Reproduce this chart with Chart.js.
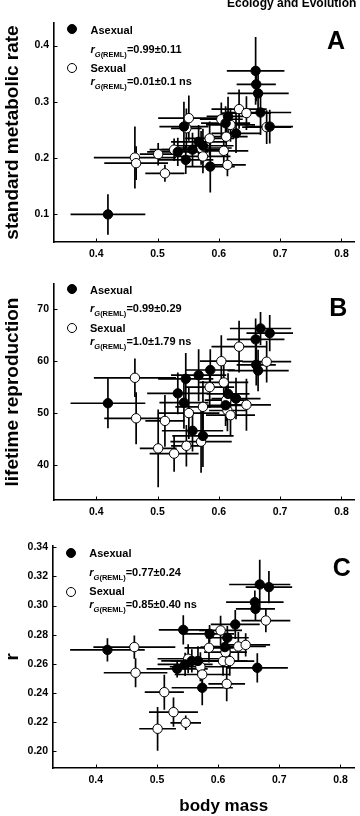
<!DOCTYPE html>
<html><head><meta charset="utf-8">
<script src="https://cdn.jsdelivr.net/npm/chart.js@4.4.1/dist/chart.umd.min.js"></script>
<style>
html,body{margin:0;padding:0;background:#fff;}
body{width:360px;height:816px;position:relative;overflow:hidden;font-family:"Liberation Sans",Arial,sans-serif;font-weight:bold;color:#000;}
canvas{position:absolute;left:0;}
.t{position:absolute;white-space:nowrap;font-size:11px;line-height:12px;}
.t sub{font-size:7.5px;vertical-align:-4px;line-height:0;}
.dot{position:absolute;width:10px;height:10px;border-radius:50%;box-sizing:border-box;border:1px solid #000;}
.letter{position:absolute;font-size:25px;line-height:25px;transform:translateX(-50%);}
</style></head><body>
<canvas id="cA" width="360" height="270" style="top:0px"></canvas>
<canvas id="cB" width="360" height="270" style="top:270px"></canvas>
<canvas id="cC" width="360" height="276" style="top:540px"></canvas>

<div class="t" style="left:227px;top:-3.2px;font-size:12px;">Ecology and Evolution</div>

<!-- panel A legend -->
<div class="dot" style="left:66.7px;top:24.3px;background:#000"></div>
<div class="t" style="left:90.5px;top:23.5px">Asexual</div>
<div class="t" style="left:90.5px;top:42.5px"><i>r</i><sub><i>G</i>(REML)</sub>=0.99±0.11</div>
<div class="dot" style="left:66.7px;top:62.7px;background:#fff"></div>
<div class="t" style="left:90.5px;top:61.9px">Sexual</div>
<div class="t" style="left:90.5px;top:74.9px"><i>r</i><sub><i>G</i>(REML)</sub>=0.01±0.1 ns</div>
<div class="letter" style="left:336px;top:28px">A</div>

<!-- panel B legend -->
<div class="dot" style="left:66.7px;top:284.3px;background:#000"></div>
<div class="t" style="left:90px;top:283.5px">Asexual</div>
<div class="t" style="left:90px;top:301.9px"><i>r</i><sub><i>G</i>(REML)</sub>=0.99±0.29</div>
<div class="dot" style="left:66.7px;top:322.7px;background:#fff"></div>
<div class="t" style="left:90px;top:321.9px">Sexual</div>
<div class="t" style="left:90px;top:335.2px"><i>r</i><sub><i>G</i>(REML)</sub>=1.0±1.79 ns</div>
<div class="letter" style="left:338.3px;top:295px">B</div>

<!-- panel C legend -->
<div class="dot" style="left:65.7px;top:547.7px;background:#000"></div>
<div class="t" style="left:89.3px;top:547px">Asexual</div>
<div class="t" style="left:89.3px;top:565.9px"><i>r</i><sub><i>G</i>(REML)</sub>=0.77±0.24</div>
<div class="dot" style="left:65.7px;top:586.7px;background:#fff"></div>
<div class="t" style="left:89.3px;top:585px">Sexual</div>
<div class="t" style="left:89.3px;top:597.5px"><i>r</i><sub><i>G</i>(REML)</sub>=0.85±0.40 ns</div>
<div class="letter" style="left:341.7px;top:555px">C</div>

<div class="t" style="left:223.7px;top:796.6px;font-size:17px;line-height:17px;transform:translateX(-50%)">body mass</div>

<script>
// ---- data ----
const asexMass    = [0.419,0.533,0.543,0.546,0.557,0.567,0.574,0.586,0.611,0.615,0.628,0.660,0.661,0.664,0.668,0.683];
const asexMassErr = [0.061,0.050,0.040,0.045,0.050,0.045,0.050,0.040,0.040,0.035,0.040,0.047,0.032,0.050,0.050,0.038];
const asexSMR     = [0.100,0.211,0.256,0.197,0.215,0.229,0.222,0.185,0.262,0.274,0.244,0.355,0.331,0.315,0.281,0.256];
const asexSMRErr  = [0.036,0.025,0.044,0.025,0.030,0.030,0.030,0.046,0.030,0.035,0.035,0.060,0.030,0.040,0.040,0.030];
const asexLR      = [51.9,53.8,52.0,56.6,46.6,57.3,45.6,58.3,51.5,53.7,52.8,64.2,59.3,58.2,66.3,65.4];
const asexLRErr   = [4.8,4.0,5.0,5.0,4.0,5.0,6.0,4.0,4.0,4.0,4.0,4.0,4.0,4.0,3.2,3.5];
const asexR       = [0.2696,0.2566,0.2833,0.2596,0.2620,0.2620,0.2436,0.2806,0.2715,0.2779,0.2870,0.3023,0.2977,0.2573,0.3144,0.3126];
const asexRErr    = [0.008,0.006,0.010,0.008,0.008,0.010,0.012,0.006,0.010,0.008,0.010,0.008,0.008,0.010,0.017,0.011];

const sexMass     = [0.463,0.465,0.501,0.512,0.527,0.547,0.551,0.571,0.574,0.585,0.604,0.608,0.612,0.614,0.619,0.633,0.645,0.678];
const sexMassErr  = [0.067,0.052,0.030,0.032,0.040,0.025,0.050,0.050,0.045,0.040,0.035,0.040,0.035,0.030,0.040,0.045,0.040,0.040];
const sexSMR      = [0.201,0.191,0.207,0.173,0.215,0.253,0.271,0.218,0.203,0.235,0.269,0.213,0.238,0.188,0.259,0.287,0.280,0.255];
const sexSMRErr   = [0.055,0.030,0.020,0.015,0.020,0.035,0.040,0.030,0.030,0.030,0.030,0.030,0.025,0.020,0.030,0.035,0.030,0.030];
const sexLR       = [56.8,49.0,43.2,48.5,42.2,43.7,50.0,44.5,51.2,55.0,60.0,55.9,52.5,50.5,49.6,62.8,51.6,59.9];
const sexLRErr    = [3.7,5.0,7.5,5.0,3.5,4.0,5.0,6.0,5.0,4.0,5.0,4.0,4.0,4.0,4.0,5.0,5.0,4.0];
const sexR        = [0.2715,0.2539,0.2155,0.2406,0.2269,0.2196,0.2635,0.2580,0.2527,0.2710,0.2829,0.2619,0.2680,0.2463,0.2619,0.2719,0.2730,0.2897];
const sexRErr     = [0.008,0.010,0.015,0.012,0.010,0.005,0.010,0.010,0.010,0.010,0.010,0.010,0.008,0.012,0.010,0.010,0.008,0.008];

const massTicks = [0.4,0.5,0.6,0.7,0.8];
const smrTicks  = [0.1,0.2,0.3,0.4];
const lrTicks   = [40,50,60,70];
const rTicks    = [0.20,0.22,0.24,0.26,0.28,0.30,0.32,0.34];

const FONT = '"Liberation Sans", Arial, sans-serif';

const errorBars = {
  id:'errorBars',
  beforeDatasetsDraw(chart){
    const {ctx, chartArea:a} = chart;
    const xs = chart.scales.x, ys = chart.scales.y;
    ctx.save();
    ctx.beginPath(); ctx.rect(a.left,a.top,a.right-a.left,a.bottom-a.top); ctx.clip();
    ctx.strokeStyle = '#000'; ctx.lineWidth = 1.7; ctx.lineCap = 'butt';
    chart.data.datasets.forEach(ds=>{
      ds.data.forEach(p=>{
        const px = xs.getPixelForValue(p.x), py = ys.getPixelForValue(p.y);
        ctx.beginPath();
        ctx.moveTo(xs.getPixelForValue(p.x-p.xe), py); ctx.lineTo(xs.getPixelForValue(p.x+p.xe), py);
        ctx.moveTo(px, ys.getPixelForValue(p.y-p.ye)); ctx.lineTo(px, ys.getPixelForValue(p.y+p.ye));
        ctx.stroke();
      });
    });
    ctx.restore();
  },
  afterDraw(chart){
    // short inward tick marks
    const {ctx, chartArea:a} = chart;
    const xs = chart.scales.x, ys = chart.scales.y;
    ctx.save(); ctx.strokeStyle='#000'; ctx.lineWidth=1;
    ctx.beginPath();
    xs.ticks.forEach(t=>{ const p=Math.round(xs.getPixelForValue(t.value))+0.5; ctx.moveTo(p,a.bottom); ctx.lineTo(p,a.bottom-3.5); });
    ys.ticks.forEach(t=>{ const p=Math.round(ys.getPixelForValue(t.value))+0.5; ctx.moveTo(a.left,p); ctx.lineTo(a.left+3.5,p); });
    ctx.stroke(); ctx.restore();
  }
};

function pts(xv, xe, yv, ye){ return xv.map((x,i)=>({x:x, y:yv[i], xe:xe[i], ye:ye[i]})); }

function panel(id, H, area, xMin, xMax, yMin, yMax, yTicks, dec, yTitle, aY, aYe, sY, sYe){
  new Chart(document.getElementById(id), {
    type:'scatter',
    data:{datasets:[
      {label:'Asexual', data:pts(asexMass, asexMassErr, aY, aYe), pointRadius:4.7, pointBackgroundColor:'#000', pointBorderColor:'#000', pointBorderWidth:1},
      {label:'Sexual', data:pts(sexMass, sexMassErr, sY, sYe), pointRadius:4.7, pointBackgroundColor:'#fff', pointBorderColor:'#000', pointBorderWidth:1}
    ]},
    options:{
      responsive:false, animation:false, devicePixelRatio:1,
      layout:{padding:{left:0, right:360-area.right, top:area.top, bottom:0}},
      plugins:{legend:{display:false}, tooltip:{enabled:false}},
      scales:{
        x:{type:'linear', min:xMin, max:xMax,
          afterBuildTicks:s=>{ s.ticks = massTicks.map(v=>({value:v})); },
          afterFit:s=>{ s.height = H-area.bottom; s.paddingLeft=0; s.paddingRight=0; },
          grid:{display:false, drawTicks:false},
          border:{display:true, color:'#000', width:1.6},
          ticks:{color:'#000', padding:6, maxRotation:0, autoSkip:false, font:{family:FONT, size:10.5, weight:'bold'}, callback:v=>Number(v).toFixed(1)}
        },
        y:{type:'linear', min:yMin, max:yMax,
          afterBuildTicks:s=>{ s.ticks = yTicks.map(v=>({value:v})); },
          afterFit:s=>{ s.width = area.left; s.paddingTop=0; s.paddingBottom=0; },
          grid:{display:false, drawTicks:false},
          border:{display:true, color:'#000', width:1.6},
          ticks:{color:'#000', padding:5, autoSkip:false, font:{family:FONT, size:10.5, weight:'bold'}, callback:v=>Number(v).toFixed(dec)},
          title:{display:true, text:yTitle, color:'#000', padding:{top:3.5, bottom:0}, font:{family:FONT, size:19, weight:'bold', lineHeight:1}}
        }
      }
    },
    plugins:[errorBars]
  });
}

panel('cA', 270, {left:54, right:358, top:23, bottom:242}, 0.331, 0.821, 0.051, 0.44, smrTicks, 1, 'standard metabolic rate', asexSMR, asexSMRErr, sexSMR, sexSMRErr);
panel('cB', 270, {left:54, right:358, top:14, bottom:230}, 0.331, 0.821, 33.26, 74.87, lrTicks, 0, 'lifetime reproduction', asexLR, asexLRErr, sexLR, sexLRErr);
panel('cC', 276, {left:53, right:358, top:5, bottom:228}, 0.330, 0.8226, 0.1886, 0.341, rTicks, 2, 'r', asexR, asexRErr, sexR, sexRErr);
</script>
</body></html>
